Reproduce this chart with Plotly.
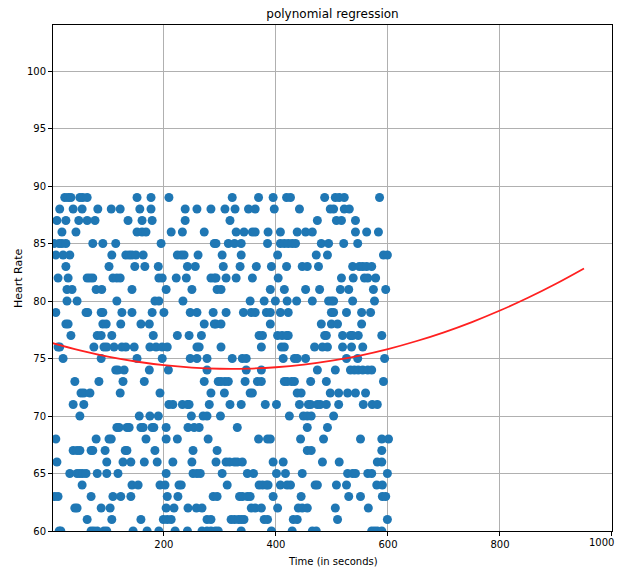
import plotly.graph_objects as go

# Heart-rate levels (bpm) and the times (s) at which each level was observed
heart_rate_levels = [89, 88, 87, 86, 85, 84, 83, 82, 81, 80, 79, 78, 77, 76, 75,
                     74, 73, 72, 71, 70, 69, 68, 67, 66, 65, 64, 63, 62, 61, 60]

times_at_level = [
    [23, 29, 34, 50, 55, 63, 152, 177, 209, 322, 369, 395, 419, 426, 487, 506, 513, 522, 585],
    [14, 38, 54, 82, 106, 122, 157, 177, 238, 259, 284, 309, 327, 351, 363, 397, 442, 497, 503, 522, 531],
    [9, 25, 48, 63, 77, 136, 161, 179, 238, 318, 474, 508, 517, 542],
    [18, 43, 152, 161, 168, 213, 233, 272, 329, 343, 358, 363, 386, 408, 438, 453, 465, 542, 562, 583],
    [4, 13, 18, 25, 73, 91, 114, 195, 290, 293, 315, 326, 338, 385, 408, 415, 422, 429, 435, 481, 494, 521, 546],
    [7, 20, 32, 107, 132, 138, 143, 150, 163, 224, 231, 236, 261, 304, 338, 403, 472, 492, 592, 599],
    [25, 102, 148, 166, 190, 242, 256, 306, 336, 365, 392, 419, 447, 456, 476, 537, 549, 555, 562, 571],
    [11, 29, 63, 68, 73, 109, 116, 122, 191, 197, 222, 240, 284, 290, 293, 311, 329, 358, 404, 517, 538, 558, 564, 578],
    [27, 36, 79, 89, 143, 204, 250, 295, 302, 390, 415, 453, 478, 515, 530, 574, 596],
    [27, 45, 116, 184, 191, 234, 354, 379, 399, 420, 437, 465, 494, 499, 503, 537, 576],
    [7, 61, 64, 88, 91, 125, 143, 179, 200, 247, 259, 288, 311, 342, 356, 363, 383, 390, 408, 422, 499, 503, 526, 553, 569],
    [25, 29, 91, 97, 123, 159, 174, 272, 290, 293, 302, 390, 481, 499, 510, 553],
    [34, 81, 88, 107, 181, 224, 245, 267, 370, 376, 403, 411, 419, 422, 487, 490, 519, 533, 537, 547, 589],
    [11, 14, 75, 93, 98, 111, 125, 132, 147, 175, 186, 197, 206, 259, 263, 302, 374, 410, 415, 469, 483, 492, 519, 535, 555],
    [20, 88, 152, 197, 247, 259, 277, 322, 340, 347, 413, 433, 438, 453, 526, 546, 594],
    [114, 118, 129, 174, 208, 277, 347, 374, 474, 506, 533, 540, 547, 555, 564, 571],
    [41, 84, 127, 165, 272, 297, 302, 309, 315, 345, 367, 374, 415, 420, 428, 433, 462, 490, 592],
    [52, 57, 68, 122, 193, 284, 308, 354, 358, 438, 445, 497, 512, 528, 542, 560],
    [38, 57, 209, 216, 233, 242, 245, 281, 318, 338, 381, 401, 442, 458, 462, 474, 479, 490, 512, 556, 572, 581],
    [50, 156, 175, 190, 249, 270, 277, 301, 424, 449, 456, 463, 503],
    [116, 120, 134, 138, 159, 163, 179, 182, 204, 243, 254, 263, 331, 456, 492],
    [7, 79, 102, 106, 168, 204, 224, 279, 369, 385, 390, 444, 485, 551, 589, 601],
    [38, 45, 50, 70, 73, 95, 131, 134, 184, 252, 295, 456, 463, 589],
    [9, 98, 127, 141, 165, 188, 216, 250, 293, 311, 317, 326, 331, 340, 395, 413, 483, 513, 581, 589],
    [32, 45, 50, 55, 61, 81, 98, 118, 204, 252, 259, 265, 304, 349, 360, 401, 417, 447, 528, 537, 542, 564, 571, 599],
    [54, 143, 154, 193, 202, 227, 231, 313, 370, 376, 383, 386, 408, 420, 426, 470, 474, 508, 526, 580, 590],
    [5, 11, 70, 109, 123, 141, 206, 225, 288, 295, 335, 340, 349, 354, 395, 445, 530, 551, 590, 596],
    [41, 45, 88, 104, 204, 218, 243, 258, 268, 356, 363, 374, 403, 440, 447, 456, 506, 565],
    [63, 107, 159, 199, 206, 213, 277, 284, 320, 326, 333, 338, 343, 379, 385, 431, 438, 510, 599],
    [13, 16, 70, 75, 81, 93, 98, 145, 170, 191, 220, 242, 268, 277, 284, 292, 297, 338, 392, 429, 465, 472, 571, 576, 581, 589],
]

# Regression curve
curve_time = [0, 50, 100, 150, 200, 250, 300, 350, 400, 450, 500, 550, 600, 650,
              700, 750, 800, 850, 900, 950]
curve_rate = [76.35, 75.70, 75.16, 74.74, 74.42, 74.21, 74.11, 74.12, 74.24, 74.47,
              74.81, 75.26, 75.82, 76.50, 77.28, 78.17, 79.17, 80.28, 81.50, 82.83]

x_ticks = [200, 400, 600, 800, 1000]
x_tick_labels = ["200", "400", "600", "800", "1000"]
y_ticks = [60, 65, 70, 75, 80, 85, 90, 95, 100]

scatter_x, scatter_y = [], []
for level, times in zip(heart_rate_levels, times_at_level):
    scatter_x.extend(times)
    scatter_y.extend([level] * len(times))

FONT = "DejaVu Sans"

# page body adds an 8px offset, so the figure is sized to fit inside the window
W, H = 616, 563
L, R, T, B = 45, 12, 17, 40
PW, PH = W - L - R, H - T - B

fig = go.Figure()
fig.add_trace(go.Scatter(
    x=scatter_x, y=scatter_y, mode="markers",
    marker=dict(color="#1f77b4", size=9, line=dict(width=0)),
    showlegend=False,
))
fig.add_trace(go.Scatter(
    x=curve_time, y=curve_rate, mode="lines", line_shape="spline",
    line=dict(color="#ff2020", width=1.8),
    showlegend=False,
))

axis_common = dict(
    showgrid=True, gridcolor="#b0b0b0", gridwidth=0.8,
    showline=True, linecolor="black", linewidth=1, mirror=True,
    ticks="outside", ticklen=4, tickcolor="black", tickwidth=1,
    tickfont=dict(family=FONT, size=10, color="black"),
    zeroline=False,
)

# the last x tick label sits at the page edge, where plotly would hide it,
# so it is drawn as an annotation anchored at the same tick value
edge_labels = [
    dict(text=lbl, x=v, xref="x", y=0, yref="paper", xanchor="right", yanchor="top",
         xshift=3, yshift=-5, borderpad=0, showarrow=False,
         font=dict(family=FONT, size=10, color="black"))
    for v, lbl in zip(x_ticks, x_tick_labels) if v == max(x_ticks)
]

fig.update_layout(
    width=W, height=H,
    margin=dict(l=L, r=R, t=T, b=B),
    paper_bgcolor="white", plot_bgcolor="white",
    title=dict(text="polynomial regression", x=(L + PW / 2) / W, xanchor="center",
               y=1 - 6 / H, yanchor="middle", yref="container",
               font=dict(family=FONT, size=12, color="black")),
    xaxis=dict(range=[2, 1000.01], tickvals=x_ticks,
               ticktext=[("" if v == max(x_ticks) else t) for v, t in zip(x_ticks, x_tick_labels)],
               **axis_common),
    yaxis=dict(range=[60, 104], tickvals=y_ticks, **axis_common),
    annotations=edge_labels + [
        dict(text="Time (in seconds)", xref="paper", yref="paper",
             x=0.5, y=-30 / PH, xanchor="center", yanchor="middle",
             showarrow=False, font=dict(family=FONT, size=10, color="black")),
        dict(text="Heart Rate", xref="paper", yref="paper",
             x=-35 / PW, y=0.5, xanchor="center", yanchor="middle", textangle=-90,
             showarrow=False, font=dict(family=FONT, size=11, color="black")),
    ],
)

fig.write_html("out.html")
